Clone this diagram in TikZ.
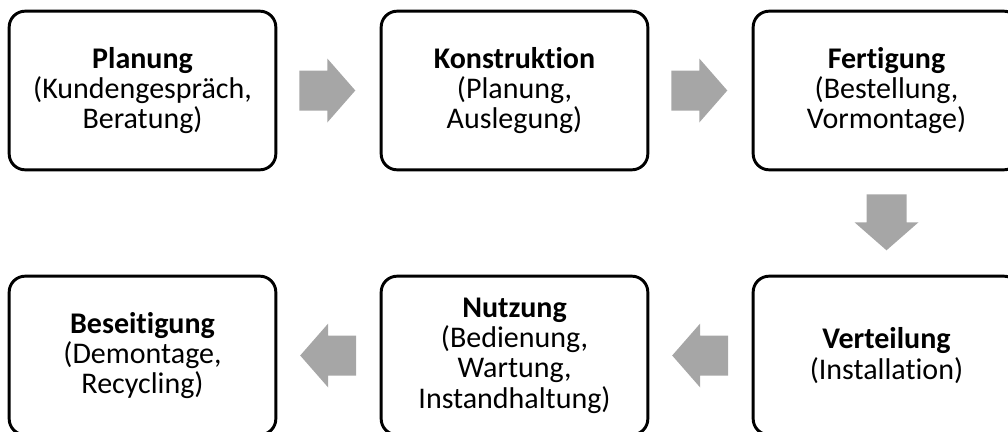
\documentclass[tikz,border=0pt]{standalone}
\usepackage{fontspec}
\setmainfont[Ligatures=NoCommon]{Carlito}
\usetikzlibrary{calc}
\definecolor{arrowgray}{HTML}{A6A6A6}
\tikzset{
  stage/.style={draw=black, line width=2.2pt, rounded corners=12pt, fill=white,
    minimum width=200pt, minimum height=119pt, align=center, inner sep=0pt,
    font=\fontsize{22.5}{22.8}\selectfont},
  blockarr/.pic={\fill[arrowgray] (-28,-20) -- (0,-20) -- (0,-32) -- (28,0) -- (0,32) -- (0,20) -- (-28,20) -- cycle;}
}
\begin{document}
\begin{tikzpicture}[x=0.75pt,y=-0.75pt]
\useasboundingbox (0,0) rectangle (1008,432);
\node[stage] (b1) at (142.5,90.5) {\textbf{Planung}\\(Kundengespräch,\\Beratung)};
\node[stage] (b2) at (514.5,90.5) {\textbf{Konstruktion}\\(Planung,\\Auslegung)};
\node[stage] (b3) at (886.5,90.5) {\textbf{Fertigung}\\(Bestellung,\\Vormontage)};
\node[stage] (b4) at (886.5,355.5) {\textbf{Verteilung}\\(Installation)};
\node[stage] (b5) at (514.5,355.5) {\textbf{Nutzung}\\(Bedienung,\\Wartung,\\Instandhaltung)};
\node[stage] (b6) at (142.5,355.5) {\textbf{Beseitigung}\\(Demontage,\\Recycling)};
\pic at ($(b1.east)+(50,0)$) {blockarr};
\pic at ($(b2.east)+(50,0)$) {blockarr};
\pic[rotate=-90] at ($(b3.south)+(0,51)$) {blockarr};
\pic[rotate=180] at ($(b4.west)+(-51.5,0)$) {blockarr};
\pic[rotate=180] at ($(b5.west)+(-51.5,0)$) {blockarr};
\end{tikzpicture}
\end{document}
